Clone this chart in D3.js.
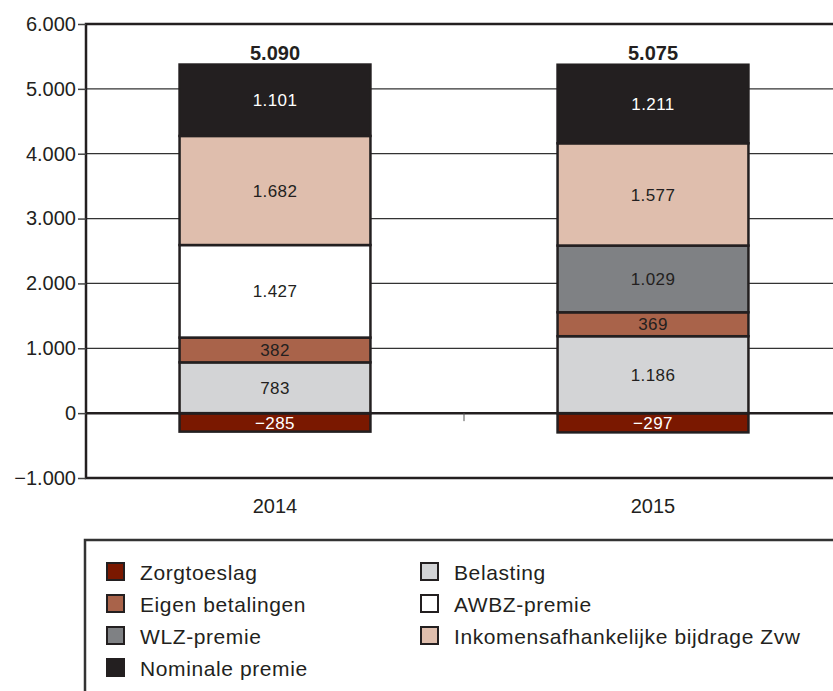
<!DOCTYPE html>
<html>
<head>
<meta charset="utf-8">
<script src="https://cdn.jsdelivr.net/npm/d3@7"></script>
<style>
  body { margin: 0; background: #fff; }
  svg { display: block; font-family: "Liberation Sans", Arial, sans-serif; }
</style>
</head>
<body>
<div id="chart"></div>
<script>
// data (bedragen, x mln)
var years = ["2014", "2015"];
var seriesKeys = ["zorgtoeslag", "belasting", "eigen", "awbz", "wlz", "inkomens", "nominale"];
var seriesNames = ["Zorgtoeslag", "Belasting", "Eigen betalingen", "AWBZ-premie", "WLZ-premie",
                   "Inkomensafhankelijke bijdrage Zvw", "Nominale premie"];
var zorgtoeslag = [-285, -297];
var belasting = [783, 1186];
var eigen = [382, 369];
var awbz = [1427, 0];
var wlz = [0, 1029];
var inkomens = [1682, 1577];
var nominale = [1101, 1211];
var yTicks = [-1000, 0, 1000, 2000, 3000, 4000, 5000, 6000];

var colors = ["#7a1800", "#d3d4d6", "#a9634a", "#ffffff", "#7f8184", "#dfbead", "#231f20"];
var labelColors = ["#fff", "#231f20", "#231f20", "#231f20", "#231f20", "#231f20", "#fff"];

var valuesByKey = { zorgtoeslag: zorgtoeslag, belasting: belasting, eigen: eigen, awbz: awbz,
                    wlz: wlz, inkomens: inkomens, nominale: nominale };

var rows = years.map(function(y, i) {
  var r = { year: y };
  seriesKeys.forEach(function(k) { r[k] = valuesByKey[k][i]; });
  return r;
});

var nl = d3.formatLocale({ decimal: ",", thousands: ".", grouping: [3], currency: ["€", ""], minus: "\u2212" });
var fmt = nl.format(",d");

var width = 833, height = 691;
var svg = d3.select("#chart").append("svg")
  .attr("width", width)
  .attr("height", height);

var x = d3.scaleBand().domain(years).range([86, 842]).padding(0);
var y = d3.scaleLinear().domain([-1000, 6000]).range([478, 24]);
var barW = x.bandwidth() * 0.505;
var ink = "#231f20";

// gridlines
svg.append("g")
  .selectAll("line")
  .data(yTicks.filter(function(t) { return t > -1000 && t < 6000 && t !== 0; }))
  .enter().append("line")
  .attr("x1", 86).attr("x2", width)
  .attr("y1", function(d) { return y(d); })
  .attr("y2", function(d) { return y(d); })
  .attr("stroke", "#333")
  .attr("stroke-width", 1.3);

// stacked bars
var stack = d3.stack().keys(seriesKeys).offset(d3.stackOffsetDiverging);
var layers = stack(rows);

var gBars = svg.append("g");
layers.forEach(function(layer, li) {
  layer.forEach(function(seg, i) {
    if (seg[1] === seg[0]) return;
    var x0 = x(years[i]) + (x.bandwidth() - barW) / 2;
    gBars.append("rect")
      .attr("x", x0)
      .attr("y", y(seg[1]))
      .attr("width", barW)
      .attr("height", y(seg[0]) - y(seg[1]))
      .attr("fill", colors[li])
      .attr("stroke", ink)
      .attr("stroke-width", 2.5);
  });
});

// zero line
svg.append("line")
  .attr("x1", 86).attr("x2", width)
  .attr("y1", y(0)).attr("y2", y(0))
  .attr("stroke", ink)
  .attr("stroke-width", 2.5);

// segment labels
layers.forEach(function(layer, li) {
  layer.forEach(function(seg, i) {
    if (seg[1] === seg[0]) return;
    var v = seg.data[layer.key];
    svg.append("text")
      .attr("x", x(years[i]) + x.bandwidth() / 2)
      .attr("y", (y(seg[0]) + y(seg[1])) / 2)
      .attr("dy", "0.36em")
      .attr("text-anchor", "middle")
      .attr("font-size", 17)
      .attr("letter-spacing", 0.4)
      .attr("fill", labelColors[li])
      .text(fmt(v));
  });
});

// totals above bars
rows.forEach(function(r, i) {
  var top = d3.sum(seriesKeys, function(k) { return r[k] > 0 ? r[k] : 0; });
  var total = d3.sum(seriesKeys, function(k) { return r[k]; });
  svg.append("text")
    .attr("x", x(r.year) + x.bandwidth() / 2)
    .attr("y", y(top) - 5)
    .attr("text-anchor", "middle")
    .attr("font-size", 20)
    .attr("font-weight", "bold")
    .attr("fill", ink)
    .text(fmt(total));
});

// frame: top, left, bottom
svg.append("path")
  .attr("d", "M" + width + "," + y(6000) + "H86V" + y(-1000) + "H" + width)
  .attr("fill", "none")
  .attr("stroke", ink)
  .attr("stroke-width", 2.5);

// y axis
var yAxis = svg.append("g")
  .attr("transform", "translate(86,0)")
  .call(d3.axisLeft(y).tickValues(yTicks).tickSize(8).tickPadding(2)
    .tickFormat(function(d) { return fmt(d); }));
yAxis.select(".domain").remove();
yAxis.selectAll("line").attr("stroke", "#444").attr("stroke-width", 1.5);
yAxis.selectAll("text")
  .attr("font-size", 20)
  .attr("font-family", "Liberation Sans, Arial, sans-serif")
  .attr("fill", ink);

// x category labels and mid tick
svg.selectAll(".xlab")
  .data(years)
  .enter().append("text")
  .attr("class", "xlab")
  .attr("x", function(d) { return x(d) + x.bandwidth() / 2; })
  .attr("y", 513)
  .attr("text-anchor", "middle")
  .attr("font-size", 20)
  .attr("fill", ink)
  .text(function(d) { return d; });

svg.append("line")
  .attr("x1", x(years[1])).attr("x2", x(years[1]))
  .attr("y1", y(0)).attr("y2", y(0) + 8)
  .attr("stroke", "#555")
  .attr("stroke-width", 1);

// legend box
svg.append("path")
  .attr("d", "M" + width + ",540H85V" + height)
  .attr("fill", "none")
  .attr("stroke", "#333")
  .attr("stroke-width", 2.5);

var legOrder = [0, 2, 4, 6, 1, 3, 5];
legOrder.forEach(function(si, j) {
  var col = j < 4 ? 0 : 1;
  var row = j < 4 ? j : j - 4;
  var lx = col === 0 ? 107 : 421;
  var ly = 572 + row * 32;
  svg.append("rect")
    .attr("x", lx).attr("y", ly - 9)
    .attr("width", 17).attr("height", 17)
    .attr("fill", colors[si])
    .attr("stroke", ink)
    .attr("stroke-width", 2);
  svg.append("text")
    .attr("x", lx + 33)
    .attr("y", ly)
    .attr("dy", "0.36em")
    .attr("font-size", 21)
    .attr("letter-spacing", 0.6)
    .attr("fill", ink)
    .text(seriesNames[si]);
});
</script>
</body>
</html>
